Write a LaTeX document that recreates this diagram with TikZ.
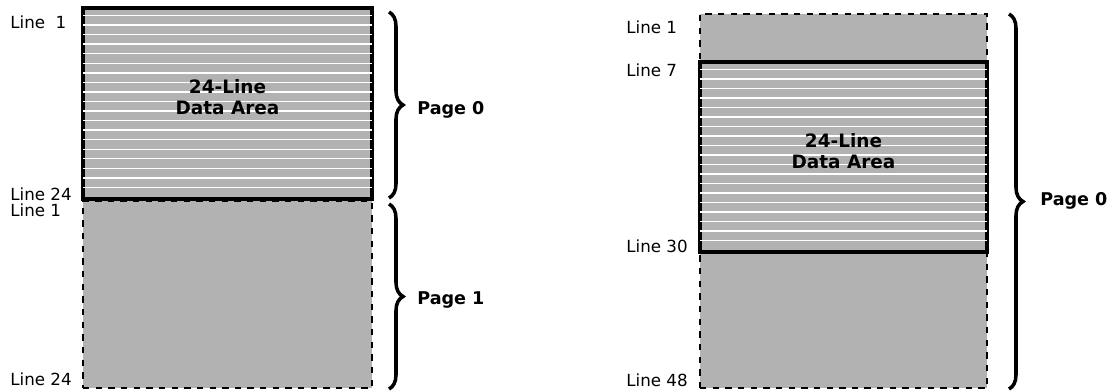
\documentclass[tikz,border=0pt]{standalone}
\usepackage{fontspec}
\setmainfont{DejaVu Sans}
\usetikzlibrary{decorations.pathreplacing}

\begin{document}
\begin{tikzpicture}[
  x=0.02cm, y=-0.02cm,
  area/.style={draw, rectangle, inner sep=0pt, fill=black!30, line width=1.4pt,
               dash pattern=on 3.6pt off 3.6pt},
  data/.style={draw, rectangle, inner sep=0pt, fill=black!30, line width=2.3pt},
  lbl/.style={anchor=west, inner sep=0pt, font=\fontsize{9.5}{11}\selectfont},
  page/.style={anchor=west, inner sep=0pt, font=\bfseries\fontsize{10}{12}\selectfont},
  title/.style={align=center, inner sep=0pt, font=\bfseries\fontsize{10.5}{12}\selectfont},
  brc/.style={decorate, decoration={brace, amplitude=0.28cm}, line width=2pt}
]
  \useasboundingbox (0,0) rectangle (1117,390);

  % Left: two pages
  \node[area, minimum width=5.78cm, minimum height=3.74cm] (pg1)   at (227.5,294.5) {};
  \node[data, minimum width=5.78cm, minimum height=3.82cm] (data0) at (227.5,103.5) {};
  \foreach \i in {1,...,19}
    \draw[white, line width=0.8pt]
      ([xshift=1.2pt, yshift=-\i*0.191cm]data0.north west) --
      ([xshift=-1.2pt, yshift=-\i*0.191cm]data0.north east);
  \node[title] (txt0) at (227.5,97) {24-Line\\Data Area};

  \node[lbl] (l0a) at (10,22)  {Line~~1};
  \node[lbl] (l0b) at (10,194) {Line 24};
  \node[lbl] (l1a) at (10,210) {Line 1};
  \node[lbl] (l1b) at (10,379) {Line 24};

  \coordinate (b0t) at (389,12);
  \coordinate (b0b) at (389,198);
  \coordinate (b1t) at (389,204);
  \coordinate (b1b) at (389,389);
  \draw[brc] (b0t) -- (b0b);
  \draw[brc] (b1t) -- (b1b);
  \node[page] (p0) at (417,110) {Page 0};
  \node[page] (p1) at (417,300) {Page 1};

  % Right: one long page
  \node[area, minimum width=5.74cm, minimum height=7.48cm] (pgr)   at (843.5,201) {};
  \node[data, minimum width=5.74cm, minimum height=3.80cm] (datar) at (843.5,157) {};
  \foreach \i in {1,...,19}
    \draw[white, line width=0.8pt]
      ([xshift=1.2pt, yshift=-\i*0.19cm]datar.north west) --
      ([xshift=-1.2pt, yshift=-\i*0.19cm]datar.north east);
  \node[title] (txtr) at (843.5,151) {24-Line\\Data Area};

  \node[lbl] (r1)  at (626,27)  {Line 1};
  \node[lbl] (r7)  at (626,70)  {Line 7};
  \node[lbl] (r30) at (626,246) {Line 30};
  \node[lbl] (r48) at (626,380) {Line 48};

  \coordinate (brt) at (1009,14);
  \coordinate (brb) at (1009,389);
  \draw[brc] (brt) -- (brb);
  \node[page] (pr) at (1040,201) {Page 0};
\end{tikzpicture}
\end{document}
